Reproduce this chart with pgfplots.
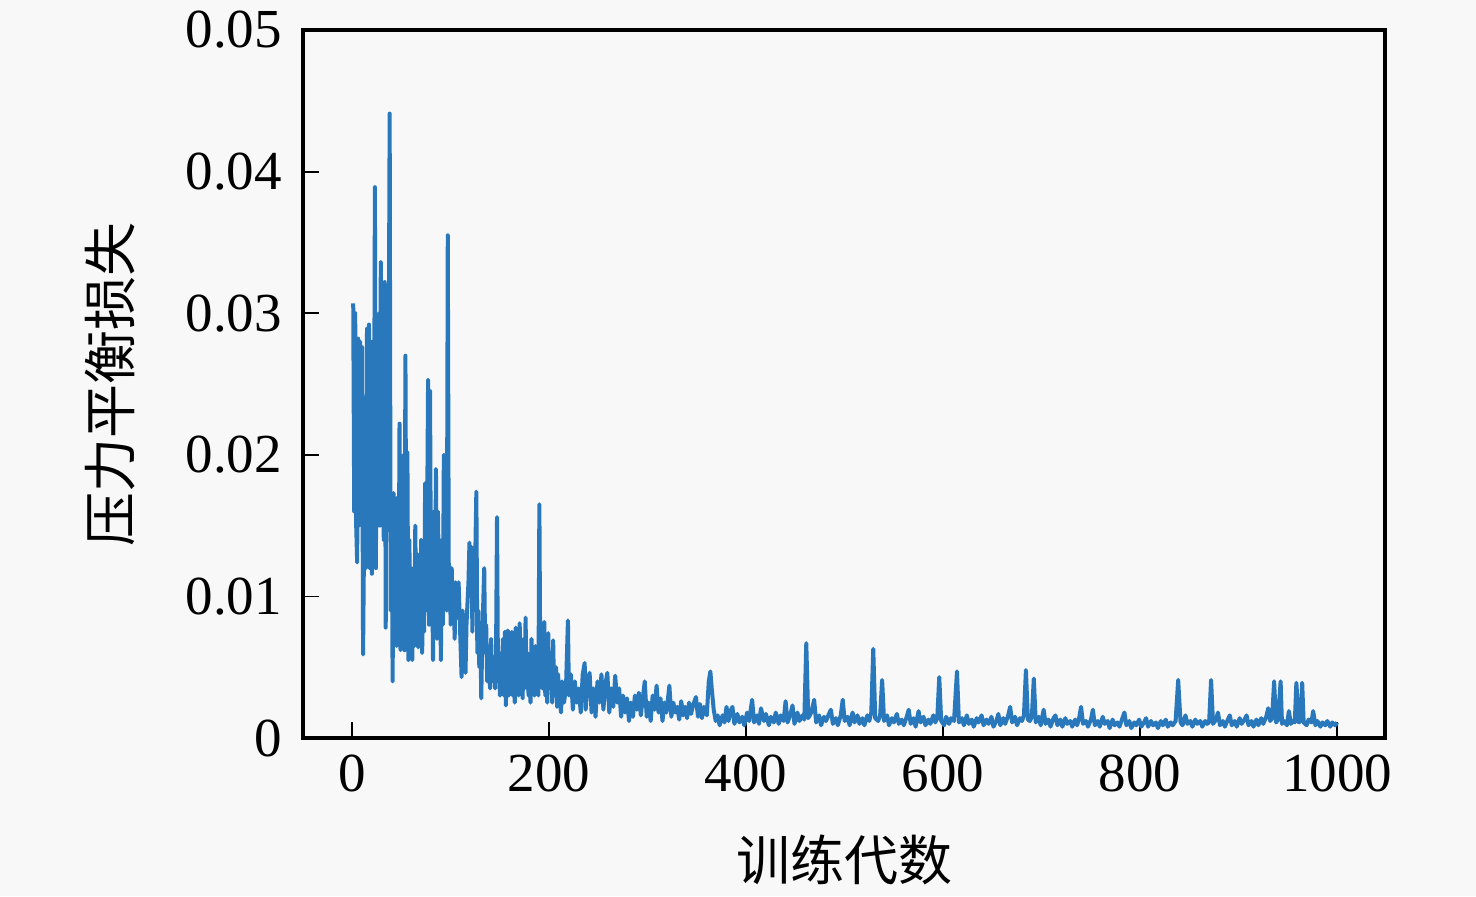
\documentclass[border=0pt]{standalone}
\usepackage{pgfplots}
\pgfplotsset{compat=1.18}
\usepackage{pgfplotstable}
\usepackage{fontspec}
\setmainfont{Liberation Serif}
\newfontfamily\cjk{Noto Sans CJK SC}
\definecolor{bg}{RGB}{248,248,248}
\definecolor{linec}{RGB}{42,120,188}
\pgfplotstableread{
x y
1 0.0307
2 0.0160
3 0.0300
4 0.0150
5 0.0124
6 0.0282
7 0.0150
8 0.0280
9 0.0160
10 0.0276
11 0.0059
12 0.0140
13 0.0180
14 0.0120
15 0.0289
16 0.0140
17 0.0292
18 0.0120
19 0.0240
20 0.0116
21 0.0280
22 0.0160
23 0.0389
24 0.0120
25 0.0290
26 0.0180
27 0.0300
28 0.0150
29 0.0336
30 0.0200
31 0.0320
32 0.0140
33 0.0322
34 0.0078
35 0.0300
36 0.0150
37 0.0260
38 0.0441
39 0.0090
40 0.0170
41 0.0040
42 0.0173
43 0.0080
44 0.0160
45 0.0065
46 0.0170
47 0.0070
48 0.0222
49 0.0062
50 0.0150
51 0.0080
52 0.0200
53 0.0062
54 0.0270
55 0.0090
56 0.0202
57 0.0055
58 0.0140
59 0.0070
60 0.0120
61 0.0055
62 0.0110
63 0.0065
64 0.0150
65 0.0080
66 0.0130
67 0.0064
68 0.0110
69 0.0070
70 0.0140
71 0.0060
72 0.0120
73 0.0075
74 0.0180
75 0.0090
76 0.0150
77 0.0253
78 0.0080
79 0.0245
80 0.0090
81 0.0130
82 0.0055
83 0.0160
84 0.0090
85 0.0190
86 0.0070
87 0.0160
88 0.0110
89 0.0130
90 0.0055
91 0.0140
92 0.0080
93 0.0200
94 0.0100
95 0.0150
96 0.0090
97 0.0355
98 0.0120
99 0.0110
100 0.0080
101 0.0120
102 0.0090
103 0.0105
104 0.0070
105 0.0110
107 0.0085
108 0.0110
110 0.0065
111 0.0043
112 0.0090
114 0.0070
115 0.0046
116 0.0080
118 0.0110
119 0.0138
120 0.0100
121 0.0135
122 0.0075
123 0.0120
124 0.0090
126 0.0174
127 0.0060
128 0.0090
129 0.0050
130 0.0080
131 0.0028
132 0.0070
134 0.0120
135 0.0060
136 0.0080
137 0.0040
138 0.0060
140 0.0035
141 0.0070
142 0.0040
144 0.0055
145 0.0035
146 0.0060
147 0.0156
148 0.0040
149 0.0050
150 0.0030
151 0.0060
152 0.0045
153 0.0070
154 0.0030
155 0.0075
156 0.0023
157 0.0060
158 0.0076
159 0.0030
160 0.0070
161 0.0040
162 0.0075
163 0.0030
164 0.0060
165 0.0025
166 0.0078
167 0.0040
168 0.0070
169 0.0030
170 0.0081
171 0.0045
172 0.0060
173 0.0028
174 0.0070
175 0.0040
176 0.0085
177 0.0035
178 0.0060
179 0.0030
180 0.0055
181 0.0025
182 0.0070
183 0.0040
184 0.0060
185 0.0030
186 0.0065
187 0.0040
188 0.0050
189 0.0030
190 0.0165
191 0.0040
192 0.0060
193 0.0035
195 0.0082
196 0.0030
197 0.0060
198 0.0025
199 0.0074
200 0.0035
202 0.0055
203 0.0025
204 0.0069
205 0.0030
207 0.0050
208 0.0022
209 0.0045
210 0.0030
212 0.0018
213 0.0040
215 0.0025
217 0.0035
219 0.0083
220 0.0030
222 0.0045
224 0.0020
226 0.0040
228 0.0025
230 0.0035
232 0.0018
234 0.0045
236 0.0053
237 0.0020
239 0.0040
241 0.0046
243 0.0018
245 0.0035
247 0.0015
249 0.0040
251 0.0025
253 0.0045
255 0.0020
257 0.0038
259 0.0046
261 0.0018
263 0.0035
265 0.0022
267 0.0044
269 0.0025
271 0.0035
273 0.0015
275 0.0030
277 0.0018
279 0.0028
281 0.0012
283 0.0025
285 0.0015
287 0.0030
289 0.0020
291 0.0032
293 0.0016
295 0.0028
297 0.0040
299 0.0015
301 0.0025
303 0.0012
305 0.0030
307 0.0020
309 0.0037
311 0.0018
313 0.0028
315 0.0012
317 0.0025
319 0.0018
322 0.0037
324 0.0015
326 0.0025
328 0.0018
330 0.0022
332 0.0013
334 0.0026
336 0.0016
338 0.0022
340 0.0014
342 0.0025
344 0.0017
346 0.0023
349 0.0029
351 0.0015
353 0.0024
355 0.0014
357 0.0022
360 0.0016
362 0.0040
363.6 0.0047
365 0.0035
367 0.0020
369 0.0012
371 0.0016
373 0.0009
376 0.0016
378 0.0011
380 0.0022
382 0.0012
384 0.0019
386 0.0022
388 0.0010
391 0.0017
393 0.0011
396 0.0015
398 0.0009
401 0.0018
403 0.0012
406 0.0027
408 0.0011
411 0.0016
413 0.0010
415 0.0021
418 0.0012
420 0.0017
423 0.0009
425 0.0015
428 0.0011
430 0.0018
433 0.0010
435 0.0016
438 0.0012
440 0.0026
442 0.0011
445 0.0017
447 0.0023
449 0.0010
452 0.0018
454 0.0012
457 0.0016
459 0.0013
461 0.0067
463 0.0014
466 0.0018
469 0.0027
471 0.0011
474 0.0016
476 0.0009
479 0.0015
481 0.0012
484 0.0017
486 0.0020
488 0.0010
491 0.0014
493 0.0009
496 0.0016
498 0.0027
500 0.0012
503 0.0015
505 0.0009
508 0.0018
510 0.0011
513 0.0016
515 0.0010
518 0.0014
520 0.0009
523 0.0016
525 0.0012
527 0.0018
529 0.0063
531 0.0014
534 0.0012
536 0.0016
538 0.0041
540 0.0012
543 0.0016
545 0.0009
548 0.0014
550 0.0011
553 0.0017
555 0.0010
558 0.0013
560 0.0009
563 0.0015
565 0.0020
567 0.0010
570 0.0014
572 0.0008
575 0.0019
577 0.0011
580 0.0015
582 0.0009
585 0.0013
587 0.0010
590 0.0016
592 0.0011
594 0.0014
596 0.0043
598 0.0012
601 0.0009
603 0.0015
606 0.0010
608 0.0014
611 0.0012
614 0.0047
616 0.0011
619 0.0014
621 0.0009
624 0.0016
626 0.0010
629 0.0013
631 0.0008
634 0.0014
636 0.0011
639 0.0016
641 0.0009
644 0.0013
646 0.0010
649 0.0015
651 0.0008
654 0.0012
656 0.0017
658 0.0009
661 0.0014
663 0.0010
666 0.0016
668 0.0022
670 0.0011
673 0.0015
675 0.0009
678 0.0014
680 0.0012
682 0.0016
684 0.0048
686 0.0013
688 0.0012
690 0.0015
692 0.0042
694 0.0011
697 0.0015
699 0.0009
702 0.0020
704 0.0010
707 0.0013
709 0.0008
712 0.0014
714 0.0016
716 0.0009
719 0.0013
721 0.0008
724 0.0014
726 0.0010
729 0.0012
731 0.0008
734 0.0013
736 0.0009
738 0.0014
740 0.0022
742 0.0010
745 0.0012
747 0.0008
750 0.0013
752 0.0020
754 0.0009
757 0.0012
759 0.0008
762 0.0015
764 0.0010
767 0.0012
769 0.0007
772 0.0013
774 0.0009
777 0.0011
779 0.0008
782 0.0014
784 0.0018
786 0.0009
789 0.0012
791 0.0007
794 0.0011
796 0.0009
799 0.0013
801 0.0008
804 0.0011
806 0.0014
808 0.0008
811 0.0012
813 0.0009
816 0.0011
818 0.0007
821 0.0012
823 0.0009
826 0.0013
828 0.0008
831 0.0011
833 0.0009
836 0.0012
838.6 0.0041
841 0.0011
843 0.0009
846 0.0016
848 0.0010
851 0.0012
853 0.0008
856 0.0013
858 0.0010
861 0.0012
863 0.0008
866 0.0012
868 0.0010
870 0.0011
872 0.0041
874 0.0010
877 0.0013
879 0.0018
881 0.0009
884 0.0012
886 0.0008
889 0.0013
891 0.0016
893 0.0009
896 0.0012
898 0.0008
901 0.0014
903 0.0010
906 0.0013
908 0.0016
910 0.0009
913 0.0012
915 0.0008
918 0.0013
920 0.0009
923 0.0014
925 0.0010
928 0.0015
930 0.0021
932 0.0012
934 0.0014
936 0.0040
938 0.0011
940 0.0013
942.6 0.0040
944 0.0010
946 0.0012
949 0.0009
951 0.0019
953 0.0010
955 0.0012
957 0.0011
958.6 0.0039
961 0.0011
963 0.0012
964.5 0.0039
966 0.0011
969 0.0009
971 0.0013
974 0.0011
975.6 0.0019
978 0.0009
980 0.0012
983 0.0008
985 0.0011
988 0.0009
990 0.0012
993 0.0008
995 0.0011
998 0.0009
1000 0.0011
}\lossdata
\begin{document}
\begin{tikzpicture}
\fill[bg] (-151.5pt,-79pt) rectangle (586.5pt,369pt);
\begin{axis}[
  scale only axis,
  width=541pt, height=354pt,
  xmin=-50, xmax=1048.6,
  ymin=0, ymax=0.05,
  xtick={0,200,400,600,800,1000},
  xticklabels={0,200,400,600,800,1000},
  ytick={0,0.01,0.02,0.03,0.04,0.05},
  yticklabels={0,0.01,0.02,0.03,0.04,0.05},
  scaled y ticks=false,
  tick align=inside,
  tick pos=left,
  major tick length=8pt,
  tick style={line width=0.9pt, black},
  axis line style={line width=1.6pt, black},
  /pgf/number format/assume math mode=true,
  ticklabel style={font=\fontsize{27.5}{32}\selectfont},
  xticklabel style={yshift=-5pt},
  yticklabel style={xshift=-7pt},
  xlabel={训练代数},
  ylabel={压力平衡损失},
  xlabel style={font=\cjk\fontsize{27}{32}\selectfont, at={(axis description cs:0.5,0)}, anchor=center, yshift=-61pt},
  ylabel style={font=\cjk\fontsize{27}{32}\selectfont, at={(axis description cs:-0.1784,0.5)}, anchor=center, rotate=0},
]
\addplot[color=linec, line width=2pt, line join=round, no marks] table[x=x,y=y] {\lossdata};
\end{axis}
\pgfresetboundingbox
\path (-151.5pt,-79pt) rectangle (586.5pt,369pt);
\end{tikzpicture}
\end{document}
